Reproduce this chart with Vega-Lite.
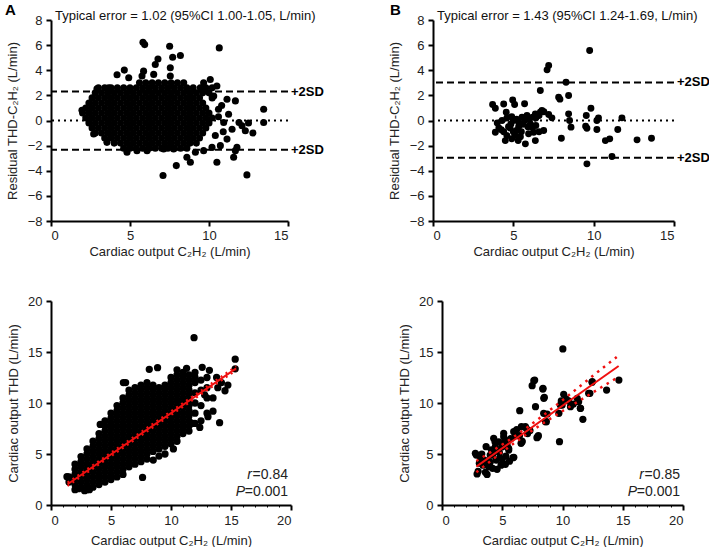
{
"$schema": "https://vega.github.io/schema/vega-lite/v6.json",
"background": "white",
"padding": {"left": 5, "top": 3, "right": 0, "bottom": 0},
"config": {
 "font": "Liberation Sans",
 "view": {"stroke": null},
 "axis": {"grid": false, "labelOverlap": false, "tickCount": 100, "format": "d", "domainColor": "#000", "domainWidth": 2, "tickColor": "#000", "tickWidth": 2, "tickSize": 5, "labelFont": "Liberation Sans", "labelFontSize": 13, "labelColor": "#222", "labelPadding": 3, "titleFont": "Liberation Sans", "titleFontSize": 13, "titleFontWeight": "normal", "titleColor": "#222"}
},
"datasets": {
 "ta": [
  {"c":5.6,"r":3},{"c":6.0,"r":3},{"c":6.4,"r":3},{"c":6.8,"r":3},{"c":7.2,"r":3},{"c":7.6,"r":3},{"c":8.0,"r":3},{"c":8.4,"r":3},
  {"c":3.0,"r":2.6},{"c":3.4,"r":2.6},{"c":3.8,"r":2.6},{"c":4.2,"r":2.6},{"c":4.6,"r":2.6},{"c":5.0,"r":2.6},{"c":5.4,"r":2.6},{"c":5.8,"r":2.6},{"c":6.2,"r":2.6},{"c":6.6,"r":2.6},{"c":7.0,"r":2.6},{"c":7.4,"r":2.6},{"c":7.8,"r":2.6},{"c":8.2,"r":2.6},{"c":8.6,"r":2.6},{"c":9.0,"r":2.6},{"c":9.8,"r":2.6},{"c":10.2,"r":2.6},
  {"c":2.8,"r":2.2},{"c":3.2,"r":2.2},{"c":3.6,"r":2.2},{"c":4.0,"r":2.2},{"c":4.4,"r":2.2},{"c":4.8,"r":2.2},{"c":5.2,"r":2.2},{"c":5.6,"r":2.2},{"c":6.0,"r":2.2},{"c":6.4,"r":2.2},{"c":6.8,"r":2.2},{"c":7.2,"r":2.2},{"c":7.6,"r":2.2},{"c":8.0,"r":2.2},{"c":8.4,"r":2.2},{"c":8.8,"r":2.2},{"c":9.2,"r":2.2},{"c":9.6,"r":2.2},{"c":10.0,"r":2.2},
  {"c":2.6,"r":1.8},{"c":3.0,"r":1.8},{"c":3.4,"r":1.8},{"c":3.8,"r":1.8},{"c":4.2,"r":1.8},{"c":4.6,"r":1.8},{"c":5.0,"r":1.8},{"c":5.4,"r":1.8},{"c":5.8,"r":1.8},{"c":6.2,"r":1.8},{"c":6.6,"r":1.8},{"c":7.0,"r":1.8},{"c":7.4,"r":1.8},{"c":7.8,"r":1.8},{"c":8.2,"r":1.8},{"c":8.6,"r":1.8},{"c":9.0,"r":1.8},{"c":9.4,"r":1.8},{"c":10.2,"r":1.8},
  {"c":2.4,"r":1.4},{"c":2.8,"r":1.4},{"c":3.2,"r":1.4},{"c":3.6,"r":1.4},{"c":4.0,"r":1.4},{"c":4.4,"r":1.4},{"c":4.8,"r":1.4},{"c":5.2,"r":1.4},{"c":5.6,"r":1.4},{"c":6.0,"r":1.4},{"c":6.4,"r":1.4},{"c":6.8,"r":1.4},{"c":7.2,"r":1.4},{"c":7.6,"r":1.4},{"c":8.0,"r":1.4},{"c":8.4,"r":1.4},{"c":8.8,"r":1.4},{"c":9.2,"r":1.4},{"c":9.6,"r":1.4},
  {"c":2.2,"r":1.0},{"c":2.6,"r":1.0},{"c":3.0,"r":1.0},{"c":3.4,"r":1.0},{"c":3.8,"r":1.0},{"c":4.2,"r":1.0},{"c":4.6,"r":1.0},{"c":5.0,"r":1.0},{"c":5.4,"r":1.0},{"c":5.8,"r":1.0},{"c":6.2,"r":1.0},{"c":6.6,"r":1.0},{"c":7.0,"r":1.0},{"c":7.4,"r":1.0},{"c":7.8,"r":1.0},{"c":8.2,"r":1.0},{"c":8.6,"r":1.0},{"c":9.0,"r":1.0},{"c":9.4,"r":1.0},{"c":9.8,"r":1.0},
  {"c":2.0,"r":0.6},{"c":2.4,"r":0.6},{"c":2.8,"r":0.6},{"c":3.2,"r":0.6},{"c":3.6,"r":0.6},{"c":4.0,"r":0.6},{"c":4.4,"r":0.6},{"c":4.8,"r":0.6},{"c":5.2,"r":0.6},{"c":5.6,"r":0.6},{"c":6.0,"r":0.6},{"c":6.4,"r":0.6},{"c":6.8,"r":0.6},{"c":7.2,"r":0.6},{"c":7.6,"r":0.6},{"c":8.0,"r":0.6},{"c":8.4,"r":0.6},{"c":8.8,"r":0.6},{"c":9.2,"r":0.6},{"c":9.6,"r":0.6},{"c":10.0,"r":0.6},
  {"c":2.2,"r":0.2},{"c":2.6,"r":0.2},{"c":3.0,"r":0.2},{"c":3.4,"r":0.2},{"c":3.8,"r":0.2},{"c":4.2,"r":0.2},{"c":4.6,"r":0.2},{"c":5.0,"r":0.2},{"c":5.4,"r":0.2},{"c":5.8,"r":0.2},{"c":6.2,"r":0.2},{"c":6.6,"r":0.2},{"c":7.0,"r":0.2},{"c":7.4,"r":0.2},{"c":7.8,"r":0.2},{"c":8.2,"r":0.2},{"c":8.6,"r":0.2},{"c":9.0,"r":0.2},{"c":9.4,"r":0.2},{"c":9.8,"r":0.2},{"c":10.2,"r":0.2},
  {"c":2.4,"r":-0.2},{"c":2.8,"r":-0.2},{"c":3.2,"r":-0.2},{"c":3.6,"r":-0.2},{"c":4.0,"r":-0.2},{"c":4.4,"r":-0.2},{"c":4.8,"r":-0.2},{"c":5.2,"r":-0.2},{"c":5.6,"r":-0.2},{"c":6.0,"r":-0.2},{"c":6.4,"r":-0.2},{"c":6.8,"r":-0.2},{"c":7.2,"r":-0.2},{"c":7.6,"r":-0.2},{"c":8.0,"r":-0.2},{"c":8.4,"r":-0.2},{"c":8.8,"r":-0.2},{"c":9.2,"r":-0.2},{"c":9.6,"r":-0.2},{"c":10.0,"r":-0.2},
  {"c":2.6,"r":-0.6},{"c":3.0,"r":-0.6},{"c":3.4,"r":-0.6},{"c":3.8,"r":-0.6},{"c":4.2,"r":-0.6},{"c":4.6,"r":-0.6},{"c":5.0,"r":-0.6},{"c":5.4,"r":-0.6},{"c":5.8,"r":-0.6},{"c":6.2,"r":-0.6},{"c":6.6,"r":-0.6},{"c":7.0,"r":-0.6},{"c":7.4,"r":-0.6},{"c":7.8,"r":-0.6},{"c":8.2,"r":-0.6},{"c":8.6,"r":-0.6},{"c":9.0,"r":-0.6},{"c":9.4,"r":-0.6},{"c":9.8,"r":-0.6},
  {"c":2.8,"r":-1.0},{"c":3.2,"r":-1.0},{"c":3.6,"r":-1.0},{"c":4.0,"r":-1.0},{"c":4.4,"r":-1.0},{"c":4.8,"r":-1.0},{"c":5.2,"r":-1.0},{"c":5.6,"r":-1.0},{"c":6.0,"r":-1.0},{"c":6.4,"r":-1.0},{"c":6.8,"r":-1.0},{"c":7.2,"r":-1.0},{"c":7.6,"r":-1.0},{"c":8.0,"r":-1.0},{"c":8.4,"r":-1.0},{"c":8.8,"r":-1.0},{"c":9.2,"r":-1.0},{"c":9.6,"r":-1.0},
  {"c":3.4,"r":-1.4},{"c":3.8,"r":-1.4},{"c":4.2,"r":-1.4},{"c":4.6,"r":-1.4},{"c":5.0,"r":-1.4},{"c":5.4,"r":-1.4},{"c":5.8,"r":-1.4},{"c":6.2,"r":-1.4},{"c":6.6,"r":-1.4},{"c":7.0,"r":-1.4},{"c":7.4,"r":-1.4},{"c":7.8,"r":-1.4},{"c":8.2,"r":-1.4},{"c":8.6,"r":-1.4},{"c":9.0,"r":-1.4},{"c":9.4,"r":-1.4},
  {"c":4.0,"r":-1.8},{"c":4.4,"r":-1.8},{"c":4.8,"r":-1.8},{"c":5.2,"r":-1.8},{"c":5.6,"r":-1.8},{"c":6.0,"r":-1.8},{"c":6.4,"r":-1.8},{"c":6.8,"r":-1.8},{"c":7.2,"r":-1.8},{"c":7.6,"r":-1.8},{"c":8.0,"r":-1.8},{"c":8.4,"r":-1.8},{"c":8.8,"r":-1.8},{"c":9.2,"r":-1.8},
  {"c":4.6,"r":-2.2},{"c":5.0,"r":-2.2},{"c":5.4,"r":-2.2},{"c":5.8,"r":-2.2},{"c":6.2,"r":-2.2},{"c":6.6,"r":-2.2},{"c":7.0,"r":-2.2},{"c":7.4,"r":-2.2},{"c":7.8,"r":-2.2},{"c":8.2,"r":-2.2},{"c":8.6,"r":-2.2},
  {"c":5.82,"r":6.23},{"c":5.93,"r":6.04},{"c":7.51,"r":5.91},{"c":10.65,"r":5.78},{"c":8.19,"r":5.17},{"c":7.7,"r":5.04},{"c":6.77,"r":4.9},{"c":6.6,"r":4.46},{"c":7.55,"r":4.2},{"c":4.64,"r":4.01},{"c":4.18,"r":3.64},{"c":5.86,"r":3.93},{"c":4.92,"r":3.4},{"c":5.76,"r":3.54},{"c":6.5,"r":3.67},{"c":7.55,"r":3.54},{"c":10.08,"r":3.27},{"c":10.5,"r":2.74},{"c":9.66,"r":3.0},{"c":9.45,"r":2.6},{"c":11.14,"r":1.69},{"c":11.67,"r":1.56},{"c":10.3,"r":1.95},{"c":13.46,"r":0.9},{"c":13.46,"r":-0.16},{"c":12.5,"r":-0.2},{"c":11.9,"r":-0.16},{"c":11.24,"r":0.5},{"c":10.93,"r":-0.16},{"c":11.46,"r":-0.69},{"c":12.09,"r":-0.42},{"c":12.3,"r":-0.82},{"c":12.78,"r":-1.0},{"c":11.14,"r":-1.48},{"c":10.72,"r":-2.0},{"c":11.77,"r":-2.14},{"c":11.67,"r":-2.4},{"c":11.56,"r":-2.93},{"c":10.5,"r":-3.32},{"c":12.4,"r":-4.33},{"c":7.09,"r":-4.38},{"c":7.93,"r":-3.59},{"c":8.82,"r":-3.32},{"c":8.6,"r":-2.93},{"c":9.66,"r":-2.4},{"c":9.14,"r":-2.53},{"c":10.19,"r":-2.14},{"c":4.81,"r":-2.53},{"c":5.44,"r":-2.4},{"c":6.08,"r":-2.4},{"c":7.13,"r":-2.27},{"c":7.76,"r":-2.27},{"c":2.91,"r":2.53},{"c":3.65,"r":2.61},{"c":1.96,"r":0.82},{"c":2.7,"r":-1.08},{"c":3.54,"r":-1.74},{"c":10.6,"r":0.9},{"c":10.8,"r":1.2},{"c":10.4,"r":-1.2},{"c":10.9,"r":-0.9},{"c":10.6,"r":0.3}
 ],
 "tb": [
  {"c":3.71,"r":1.27},{"c":3.88,"r":0.98},{"c":4.4,"r":1.32},{"c":4.96,"r":1.64},{"c":5.08,"r":1.27},{"c":5.7,"r":1.33},{"c":4.56,"r":0.66},{"c":3.88,"r":-0.93},{"c":4.25,"r":-0.74},{"c":4.5,"r":-1.6},{"c":4.7,"r":-0.5},{"c":5.0,"r":0.0},{"c":5.0,"r":-0.9},{"c":5.33,"r":-0.5},{"c":5.44,"r":-1.3},{"c":5.75,"r":-1.86},{"c":5.95,"r":-1.06},{"c":6.06,"r":-0.27},{"c":6.37,"r":-1.6},{"c":6.27,"r":-0.93},{"c":5.54,"r":0.27},{"c":5.85,"r":0.4},{"c":6.2,"r":0.27},{"c":6.37,"r":0.53},{"c":6.68,"r":0.66},{"c":6.78,"r":0.8},{"c":6.16,"r":-0.53},{"c":4.85,"r":-0.27},{"c":5.33,"r":-0.13},{"c":4.3,"r":0.0},{"c":6.68,"r":2.39},{"c":6.89,"r":-0.8},{"c":7.2,"r":0.48},{"c":7.4,"r":0.21},{"c":7.99,"r":-1.41},{"c":7.82,"r":1.86},{"c":7.9,"r":1.7},{"c":8.44,"r":1.99},{"c":8.28,"r":3.05},{"c":8.44,"r":0.53},{"c":8.5,"r":0.0},{"c":8.59,"r":-0.53},{"c":9.54,"r":0.4},{"c":9.58,"r":-0.61},{"c":9.83,"r":0.98},{"c":9.75,"r":5.57},{"c":10.2,"r":0.0},{"c":10.3,"r":0.21},{"c":10.2,"r":-0.72},{"c":9.58,"r":-3.45},{"c":11.14,"r":-2.86},{"c":10.73,"r":-1.6},{"c":11.0,"r":-1.46},{"c":11.5,"r":-0.72},{"c":11.76,"r":0.21},{"c":12.7,"r":-1.54},{"c":13.6,"r":-1.41},{"c":7.1,"r":4.03},{"c":7.2,"r":4.38},{"c":9.5,"r":-0.45},
  {"c":4.1,"r":-0.6},{"c":4.4,"r":-0.9},{"c":4.6,"r":-1.2},{"c":4.8,"r":-0.6},{"c":5.2,"r":-0.8},{"c":5.5,"r":-0.9},{"c":5.6,"r":-0.3},{"c":5.9,"r":-0.5},{"c":4.6,"r":0.2},{"c":4.9,"r":0.3},{"c":5.2,"r":0.1},{"c":5.7,"r":0.0},{"c":6.4,"r":0.2},{"c":6.6,"r":0.4},{"c":6.4,"r":-0.4},{"c":5.1,"r":-1.2},{"c":5.3,"r":-1.6},{"c":4.9,"r":-1.45},{"c":6.0,"r":0.1},{"c":4.0,"r":-0.2},{"c":6.9,"r":0.7},{"c":6.6,"r":-0.9}
 ],
 "ba": [
  {"c":1.5,"t":2.25},{"c":1.5,"t":2.75},
  {"c":2,"t":1.5},{"c":2,"t":2},{"c":2,"t":2.5},{"c":2,"t":3},{"c":2,"t":3.5},{"c":2,"t":4},
  {"c":2.5,"t":1.75},{"c":2.5,"t":2.25},{"c":2.5,"t":2.75},{"c":2.5,"t":3.25},{"c":2.5,"t":3.75},{"c":2.5,"t":4.25},{"c":2.5,"t":4.75},
  {"c":3,"t":1.5},{"c":3,"t":2},{"c":3,"t":2.5},{"c":3,"t":3},{"c":3,"t":3.5},{"c":3,"t":4},{"c":3,"t":4.5},{"c":3,"t":5},{"c":3,"t":5.5},
  {"c":3.5,"t":1.75},{"c":3.5,"t":2.25},{"c":3.5,"t":2.75},{"c":3.5,"t":3.25},{"c":3.5,"t":3.75},{"c":3.5,"t":4.25},{"c":3.5,"t":4.75},{"c":3.5,"t":5.25},{"c":3.5,"t":5.75},{"c":3.5,"t":6.25},
  {"c":4,"t":2},{"c":4,"t":2.5},{"c":4,"t":3},{"c":4,"t":3.5},{"c":4,"t":4},{"c":4,"t":4.5},{"c":4,"t":5},{"c":4,"t":5.5},{"c":4,"t":6},{"c":4,"t":6.5},{"c":4,"t":7},
  {"c":4.5,"t":2.25},{"c":4.5,"t":2.75},{"c":4.5,"t":3.25},{"c":4.5,"t":3.75},{"c":4.5,"t":4.25},{"c":4.5,"t":4.75},{"c":4.5,"t":5.25},{"c":4.5,"t":5.75},{"c":4.5,"t":6.25},{"c":4.5,"t":6.75},{"c":4.5,"t":7.25},{"c":4.5,"t":7.75},{"c":4.5,"t":8.25},
  {"c":5,"t":2.5},{"c":5,"t":3},{"c":5,"t":3.5},{"c":5,"t":4},{"c":5,"t":4.5},{"c":5,"t":5},{"c":5,"t":5.5},{"c":5,"t":6},{"c":5,"t":6.5},{"c":5,"t":7},{"c":5,"t":7.5},{"c":5,"t":8},{"c":5,"t":8.5},{"c":5,"t":9},
  {"c":5.5,"t":2.75},{"c":5.5,"t":3.25},{"c":5.5,"t":3.75},{"c":5.5,"t":4.25},{"c":5.5,"t":4.75},{"c":5.5,"t":5.25},{"c":5.5,"t":5.75},{"c":5.5,"t":6.25},{"c":5.5,"t":6.75},{"c":5.5,"t":7.25},{"c":5.5,"t":7.75},{"c":5.5,"t":8.25},{"c":5.5,"t":8.75},{"c":5.5,"t":9.25},{"c":5.5,"t":9.75},
  {"c":6,"t":3},{"c":6,"t":3.5},{"c":6,"t":4},{"c":6,"t":4.5},{"c":6,"t":5},{"c":6,"t":5.5},{"c":6,"t":6},{"c":6,"t":6.5},{"c":6,"t":7},{"c":6,"t":7.5},{"c":6,"t":8},{"c":6,"t":8.5},{"c":6,"t":9},{"c":6,"t":9.5},{"c":6,"t":10},{"c":6,"t":10.5},
  {"c":6.5,"t":3.75},{"c":6.5,"t":4.25},{"c":6.5,"t":4.75},{"c":6.5,"t":5.25},{"c":6.5,"t":5.75},{"c":6.5,"t":6.25},{"c":6.5,"t":6.75},{"c":6.5,"t":7.25},{"c":6.5,"t":7.75},{"c":6.5,"t":8.25},{"c":6.5,"t":8.75},{"c":6.5,"t":9.25},{"c":6.5,"t":9.75},{"c":6.5,"t":10.25},{"c":6.5,"t":10.75},{"c":6.5,"t":11.25},
  {"c":7,"t":4},{"c":7,"t":4.5},{"c":7,"t":5},{"c":7,"t":5.5},{"c":7,"t":6},{"c":7,"t":6.5},{"c":7,"t":7},{"c":7,"t":7.5},{"c":7,"t":8},{"c":7,"t":8.5},{"c":7,"t":9},{"c":7,"t":9.5},{"c":7,"t":10},{"c":7,"t":10.5},{"c":7,"t":11},{"c":7,"t":11.5},
  {"c":7.5,"t":4.25},{"c":7.5,"t":4.75},{"c":7.5,"t":5.25},{"c":7.5,"t":5.75},{"c":7.5,"t":6.25},{"c":7.5,"t":6.75},{"c":7.5,"t":7.25},{"c":7.5,"t":7.75},{"c":7.5,"t":8.25},{"c":7.5,"t":8.75},{"c":7.5,"t":9.25},{"c":7.5,"t":9.75},{"c":7.5,"t":10.25},{"c":7.5,"t":10.75},{"c":7.5,"t":11.25},{"c":7.5,"t":11.75},
  {"c":8,"t":4.5},{"c":8,"t":5},{"c":8,"t":5.5},{"c":8,"t":6},{"c":8,"t":6.5},{"c":8,"t":7},{"c":8,"t":7.5},{"c":8,"t":8},{"c":8,"t":8.5},{"c":8,"t":9},{"c":8,"t":9.5},{"c":8,"t":10},{"c":8,"t":10.5},{"c":8,"t":11},{"c":8,"t":11.5},{"c":8,"t":12},
  {"c":8.5,"t":5.25},{"c":8.5,"t":5.75},{"c":8.5,"t":6.25},{"c":8.5,"t":6.75},{"c":8.5,"t":7.25},{"c":8.5,"t":7.75},{"c":8.5,"t":8.25},{"c":8.5,"t":8.75},{"c":8.5,"t":9.25},{"c":8.5,"t":9.75},{"c":8.5,"t":10.25},{"c":8.5,"t":10.75},{"c":8.5,"t":11.25},{"c":8.5,"t":11.75},
  {"c":9,"t":5.5},{"c":9,"t":6},{"c":9,"t":6.5},{"c":9,"t":7},{"c":9,"t":7.5},{"c":9,"t":8},{"c":9,"t":8.5},{"c":9,"t":9},{"c":9,"t":9.5},{"c":9,"t":10},{"c":9,"t":10.5},{"c":9,"t":11},{"c":9,"t":11.5},
  {"c":9.5,"t":5.75},{"c":9.5,"t":6.25},{"c":9.5,"t":6.75},{"c":9.5,"t":7.25},{"c":9.5,"t":7.75},{"c":9.5,"t":8.25},{"c":9.5,"t":8.75},{"c":9.5,"t":9.25},{"c":9.5,"t":9.75},{"c":9.5,"t":10.25},{"c":9.5,"t":10.75},{"c":9.5,"t":11.25},{"c":9.5,"t":11.75},
  {"c":10,"t":6},{"c":10,"t":6.5},{"c":10,"t":7},{"c":10,"t":7.5},{"c":10,"t":8},{"c":10,"t":8.5},{"c":10,"t":9},{"c":10,"t":9.5},{"c":10,"t":10},{"c":10,"t":10.5},{"c":10,"t":11},{"c":10,"t":11.5},{"c":10,"t":12},{"c":10,"t":12.5},
  {"c":10.5,"t":6.25},{"c":10.5,"t":6.75},{"c":10.5,"t":7.25},{"c":10.5,"t":7.75},{"c":10.5,"t":8.25},{"c":10.5,"t":8.75},{"c":10.5,"t":9.25},{"c":10.5,"t":9.75},{"c":10.5,"t":10.25},{"c":10.5,"t":10.75},{"c":10.5,"t":11.25},{"c":10.5,"t":11.75},{"c":10.5,"t":12.25},{"c":10.5,"t":12.75},{"c":10.5,"t":13.25},
  {"c":11,"t":7},{"c":11,"t":7.5},{"c":11,"t":8},{"c":11,"t":8.5},{"c":11,"t":9},{"c":11,"t":9.5},{"c":11,"t":10},{"c":11,"t":10.5},{"c":11,"t":11},{"c":11,"t":11.5},{"c":11,"t":12},{"c":11,"t":12.5},{"c":11,"t":13},
  {"c":11.5,"t":7.25},{"c":11.5,"t":7.75},{"c":11.5,"t":8.25},{"c":11.5,"t":8.75},{"c":11.5,"t":9.25},{"c":11.5,"t":9.75},{"c":11.5,"t":10.25},{"c":11.5,"t":10.75},{"c":11.5,"t":11.25},{"c":11.5,"t":11.75},{"c":11.5,"t":12.25},{"c":11.5,"t":12.75},
  {"c":12,"t":8},{"c":12,"t":9},{"c":12,"t":10},{"c":12,"t":11},{"c":12,"t":12},{"c":12,"t":12.5},{"c":12,"t":13},
  {"c":12.5,"t":8.25},{"c":12.5,"t":9.75},{"c":12.5,"t":11.25},{"c":12.5,"t":12.25},
  {"c":13,"t":9},{"c":13,"t":10.5},{"c":13,"t":11.5},{"c":13,"t":12.5},
  {"c":11.92,"t":16.4},{"c":15.35,"t":14.3},{"c":15.35,"t":13.35},{"c":8.19,"t":13.3},{"c":8.88,"t":13.46},{"c":6.03,"t":12.0},{"c":6.22,"t":12.0},{"c":14.05,"t":8.07},{"c":8.52,"t":4.41},{"c":7.63,"t":2.7},{"c":1.33,"t":2.78},{"c":4.1,"t":7.9},{"c":2.3,"t":1.6},{"c":13.08,"t":8.66},{"c":13.5,"t":9.2},{"c":14.74,"t":11.76},{"c":13.2,"t":13.2},{"c":11.3,"t":13.4},{"c":12.6,"t":13.5},{"c":13.8,"t":12.5},{"c":14.2,"t":12.0},{"c":13.5,"t":10.5},{"c":12.8,"t":10.8},{"c":14.5,"t":11.2},{"c":13.9,"t":11.5},{"c":11.8,"t":8.0},{"c":12.4,"t":7.6},{"c":10.2,"t":5.5},{"c":9.5,"t":5.0},{"c":9.0,"t":4.8},{"c":3.2,"t":1.5},{"c":2.8,"t":1.4}
 ],
 "bb": [
  {"c":2.77,"t":5.07},{"c":2.85,"t":4.9},{"c":2.91,"t":3.04},{"c":3.0,"t":3.3},{"c":3.2,"t":4.6},{"c":3.4,"t":3.9},{"c":3.6,"t":3.2},{"c":3.74,"t":3.0},{"c":3.66,"t":5.72},{"c":3.8,"t":4.3},{"c":3.88,"t":3.76},{"c":4.0,"t":4.9},{"c":4.1,"t":5.4},{"c":4.2,"t":3.6},{"c":4.29,"t":6.54},{"c":4.4,"t":6.2},{"c":4.43,"t":5.72},{"c":4.5,"t":4.4},{"c":4.57,"t":3.5},{"c":4.7,"t":6.2},{"c":4.76,"t":5.13},{"c":4.8,"t":4.6},{"c":4.9,"t":3.9},{"c":5.0,"t":5.7},{"c":5.12,"t":7.03},{"c":5.12,"t":6.7},{"c":5.2,"t":6.0},{"c":5.26,"t":6.37},{"c":5.26,"t":3.99},{"c":5.3,"t":4.8},{"c":5.4,"t":5.9},{"c":5.54,"t":5.39},{"c":5.53,"t":5.56},{"c":5.6,"t":4.3},{"c":5.7,"t":6.5},{"c":5.89,"t":4.64},{"c":5.96,"t":4.67},{"c":5.95,"t":7.19},{"c":6.1,"t":6.8},{"c":6.2,"t":7.4},{"c":6.43,"t":6.8},{"c":6.45,"t":9.25},{"c":6.59,"t":7.68},{"c":6.64,"t":6.27},{"c":6.56,"t":6.05},{"c":6.65,"t":6.2},{"c":6.92,"t":7.68},{"c":7.0,"t":7.5},{"c":3.3,"t":5.0},{"c":3.5,"t":4.4},{"c":4.0,"t":4.2},{"c":4.6,"t":5.3},{"c":5.0,"t":4.5},{"c":4.2,"t":4.9},{"c":3.1,"t":4.1},
  {"c":7.48,"t":11.7},{"c":7.62,"t":12.19},{"c":7.69,"t":12.25},{"c":8.37,"t":11.37},{"c":8.38,"t":11.44},{"c":7.76,"t":9.64},{"c":8.45,"t":10.46},{"c":8.49,"t":10.56},{"c":7.88,"t":6.6},{"c":7.95,"t":6.7},{"c":8.59,"t":8.17},{"c":8.66,"t":8.17},{"c":8.73,"t":8.92},{"c":8.44,"t":8.99},{"c":10.03,"t":15.3},{"c":9.75,"t":6.21},{"c":9.97,"t":9.8},{"c":9.82,"t":9.8},{"c":9.7,"t":8.99},{"c":10.1,"t":10.85},{"c":10.3,"t":10.4},{"c":10.66,"t":9.64},{"c":11.5,"t":9.48},{"c":11.48,"t":9.48},{"c":11.69,"t":8.4},{"c":11.22,"t":10.46},{"c":11.34,"t":10.13},{"c":12.47,"t":12.1},{"c":12.27,"t":10.95},{"c":12.17,"t":10.95},{"c":13.66,"t":11.27},{"c":14.68,"t":12.25},{"c":12.45,"t":12.03},{"c":10.5,"t":10.2},{"c":9.9,"t":10.2},{"c":10.9,"t":9.9},{"c":7.3,"t":7.3},{"c":7.1,"t":7.0},{"c":8.0,"t":6.8}
 ]
},
"spacing": 37,
"vconcat": [
 {"hconcat": [
  {"width": 237, "height": 201,
   "layer": [
    {"data": {"name": "ta"}, "mark": {"type": "circle", "size": 50, "color": "#000", "opacity": 1},
     "encoding": {
      "x": {"field": "c", "type": "quantitative", "scale": {"domain": [0, 15], "nice": false}, "axis": {"values": [0, 5, 10, 15], "tickCount": 100, "format": "d", "labelOverlap": false, "title": "Cardiac output C₂H₂ (L/min)", "labelPadding": 3, "titlePadding": 3}},
      "y": {"field": "r", "type": "quantitative", "scale": {"domain": [-8, 8], "nice": false}, "axis": {"values": [-8, -6, -4, -2, 0, 2, 4, 6, 8], "tickCount": 100, "format": "d", "labelOverlap": false, "title": "Residual THD-C₂H₂  (L/min)", "labelPadding": 4, "titlePadding": 8}}}},
    {"data": {"values": [{"v": 2.3}, {"v": -2.33}]}, "mark": {"type": "rule", "strokeDash": [7, 4], "strokeWidth": 2, "color": "#000"}, "encoding": {"y": {"field": "v", "type": "quantitative"}}},
    {"data": {"values": [{"v": 0}]}, "mark": {"type": "rule", "strokeDash": [2, 4], "strokeWidth": 2, "color": "#000"}, "encoding": {"y": {"field": "v", "type": "quantitative"}}},
    {"data": {"values": [{"v": 2.3, "lab": "+2SD"}, {"v": -2.33, "lab": "+2SD"}]}, "mark": {"type": "text", "align": "left", "baseline": "middle", "dx": 3, "fontSize": 13, "fontWeight": "bold", "color": "#000"},
     "encoding": {"x": {"datum": 15, "type": "quantitative"}, "y": {"field": "v", "type": "quantitative"}, "text": {"field": "lab"}}},
    {"data": {"values": [{"lab": "Typical error = 1.02 (95%CI 1.00-1.05, L/min)"}]}, "mark": {"type": "text", "align": "left", "baseline": "alphabetic", "dx": 4, "dy": 0, "fontSize": 13, "color": "#111"},
     "encoding": {"x": {"datum": 0, "type": "quantitative"}, "y": {"datum": 8, "type": "quantitative"}, "text": {"field": "lab"}}},
    {"data": {"values": [{"lab": "A"}]}, "mark": {"type": "text", "align": "left", "baseline": "alphabetic", "dx": -46, "dy": -5, "fontSize": 15, "fontWeight": "bold", "color": "#000"},
     "encoding": {"x": {"datum": 0, "type": "quantitative"}, "y": {"datum": 8, "type": "quantitative"}, "text": {"field": "lab"}}}
   ]},
  {"width": 241, "height": 201,
   "layer": [
    {"data": {"name": "tb"}, "mark": {"type": "circle", "size": 48, "color": "#000", "opacity": 1},
     "encoding": {
      "x": {"field": "c", "type": "quantitative", "scale": {"domain": [0, 15], "nice": false}, "axis": {"values": [0, 5, 10, 15], "tickCount": 100, "format": "d", "labelOverlap": false, "title": "Cardiac output C₂H₂ (L/min)", "labelPadding": 3, "titlePadding": 3}},
      "y": {"field": "r", "type": "quantitative", "scale": {"domain": [-8, 8], "nice": false}, "axis": {"values": [-8, -6, -4, -2, 0, 2, 4, 6, 8], "tickCount": 100, "format": "d", "labelOverlap": false, "title": "Residual THD-C₂H₂  (L/min)", "labelPadding": 4, "titlePadding": 8}}}},
    {"data": {"values": [{"v": 3.03}, {"v": -2.97}]}, "mark": {"type": "rule", "strokeDash": [7, 4], "strokeWidth": 2, "color": "#000"}, "encoding": {"y": {"field": "v", "type": "quantitative"}}},
    {"data": {"values": [{"v": 0}]}, "mark": {"type": "rule", "strokeDash": [2, 4], "strokeWidth": 2, "color": "#000"}, "encoding": {"y": {"field": "v", "type": "quantitative"}}},
    {"data": {"values": [{"v": 3.03, "lab": "+2SD"}, {"v": -2.97, "lab": "+2SD"}]}, "mark": {"type": "text", "align": "left", "baseline": "middle", "dx": 3, "fontSize": 13, "fontWeight": "bold", "color": "#000"},
     "encoding": {"x": {"datum": 15, "type": "quantitative"}, "y": {"field": "v", "type": "quantitative"}, "text": {"field": "lab"}}},
    {"data": {"values": [{"lab": "Typical error = 1.43 (95%CI 1.24-1.69, L/min)"}]}, "mark": {"type": "text", "align": "left", "baseline": "alphabetic", "dx": 4, "dy": 0, "fontSize": 13, "color": "#111"},
     "encoding": {"x": {"datum": 0, "type": "quantitative"}, "y": {"datum": 8, "type": "quantitative"}, "text": {"field": "lab"}}},
    {"data": {"values": [{"lab": "B"}]}, "mark": {"type": "text", "align": "left", "baseline": "alphabetic", "dx": -43, "dy": -5, "fontSize": 15, "fontWeight": "bold", "color": "#000"},
     "encoding": {"x": {"datum": 0, "type": "quantitative"}, "y": {"datum": 8, "type": "quantitative"}, "text": {"field": "lab"}}}
   ]}
 ], "spacing": 145, "bounds": "flush"},
 {"hconcat": [
  {"width": 240, "height": 204,
   "layer": [
    {"data": {"name": "ba"}, "mark": {"type": "circle", "size": 53, "color": "#000", "opacity": 1},
     "encoding": {
      "x": {"field": "c", "type": "quantitative", "scale": {"domain": [0, 20], "nice": false}, "axis": {"values": [0,0.25,0.5,0.75,1,1.25,1.5,1.75,2,2.25,2.5,2.75,3,3.25,3.5,3.75,4,4.25,4.5,4.75,5,5.25,5.5,5.75,6,6.25,6.5,6.75,7,7.25,7.5,7.75,8,8.25,8.5,8.75,9,9.25,9.5,9.75,10,10.25,10.5,10.75,11,11.25,11.5,11.75,12,12.25,12.5,12.75,13,13.25,13.5,13.75,14,14.25,14.5,14.75,15,15.25,15.5,15.75,16,16.25,16.5,16.75,17,17.25,17.5,17.75,18,18.25,18.5,18.75,19,19.25,19.5,19.75,20], "tickCount": 100, "format": "d", "labelOverlap": false, "labelExpr": "datum.value % 5 === 0 ? datum.label : ''", "tickSize": {"condition": {"test": "datum.value % 5 === 0", "value": 5}, "value": 2}, "tickWidth": {"condition": {"test": "datum.value % 5 === 0", "value": 2}, "value": 1}, "labelPadding": 4, "title": "Cardiac output C₂H₂ (L/min)", "titlePadding": 7}},
      "y": {"field": "t", "type": "quantitative", "scale": {"domain": [0, 20], "nice": false}, "axis": {"values": [0, 5, 10, 15, 20], "tickCount": 100, "format": "d", "labelOverlap": false, "title": "Cardiac output THD (L/min)", "labelPadding": 4, "titlePadding": 7}}}},
    {"data": {"values": [{"c": 1.38, "t": 2.03}, {"c": 15.43, "t": 13.4}]}, "mark": {"type": "line", "color": "#f01010", "strokeWidth": 2},
     "encoding": {"x": {"field": "c", "type": "quantitative"}, "y": {"field": "t", "type": "quantitative"}}},
    {"data": {"values": [{"c": 1.38, "t": 2.2, "g": "u"}, {"c": 15.43, "t": 13.6, "g": "u"}, {"c": 1.38, "t": 1.86, "g": "l"}, {"c": 15.43, "t": 13.2, "g": "l"}]}, "mark": {"type": "line", "color": "#f01010", "strokeWidth": 2, "strokeDash": [2, 4]},
     "encoding": {"x": {"field": "c", "type": "quantitative"}, "y": {"field": "t", "type": "quantitative"}, "detail": {"field": "g"}}},
    {"data": {"values": [{"a": "=0.84", "v": 2.95}, {"a": "=0.001", "v": 1.25}]}, "mark": {"type": "text", "align": "right", "baseline": "middle", "dx": -3, "fontSize": 14, "color": "#222"},
     "encoding": {"x": {"datum": 20, "type": "quantitative"}, "y": {"field": "v", "type": "quantitative"}, "text": {"field": "a"}}},
    {"data": {"values": [{"a": "r", "v": 2.95}]}, "mark": {"type": "text", "align": "right", "baseline": "middle", "dx": -39, "fontSize": 14, "fontStyle": "italic", "color": "#222"},
     "encoding": {"x": {"datum": 20, "type": "quantitative"}, "y": {"field": "v", "type": "quantitative"}, "text": {"field": "a"}}},
    {"data": {"values": [{"a": "P", "v": 1.25}]}, "mark": {"type": "text", "align": "right", "baseline": "middle", "dx": -46, "fontSize": 14, "fontStyle": "italic", "color": "#222"},
     "encoding": {"x": {"datum": 20, "type": "quantitative"}, "y": {"field": "v", "type": "quantitative"}, "text": {"field": "a"}}}
   ]},
  {"width": 241, "height": 204,
   "layer": [
    {"data": {"name": "bb"}, "mark": {"type": "circle", "size": 52, "color": "#000", "opacity": 1},
     "encoding": {
      "x": {"field": "c", "type": "quantitative", "scale": {"domain": [0, 20], "nice": false}, "axis": {"values": [0,0.25,0.5,0.75,1,1.25,1.5,1.75,2,2.25,2.5,2.75,3,3.25,3.5,3.75,4,4.25,4.5,4.75,5,5.25,5.5,5.75,6,6.25,6.5,6.75,7,7.25,7.5,7.75,8,8.25,8.5,8.75,9,9.25,9.5,9.75,10,10.25,10.5,10.75,11,11.25,11.5,11.75,12,12.25,12.5,12.75,13,13.25,13.5,13.75,14,14.25,14.5,14.75,15,15.25,15.5,15.75,16,16.25,16.5,16.75,17,17.25,17.5,17.75,18,18.25,18.5,18.75,19,19.25,19.5,19.75,20], "tickCount": 100, "format": "d", "labelOverlap": false, "labelExpr": "datum.value % 5 === 0 ? datum.label : ''", "tickSize": {"condition": {"test": "datum.value % 5 === 0", "value": 5}, "value": 2}, "tickWidth": {"condition": {"test": "datum.value % 5 === 0", "value": 2}, "value": 1}, "labelPadding": 4, "title": "Cardiac output C₂H₂ (L/min)", "titlePadding": 7}},
      "y": {"field": "t", "type": "quantitative", "scale": {"domain": [0, 20], "nice": false}, "axis": {"values": [0, 5, 10, 15, 20], "tickCount": 100, "format": "d", "labelOverlap": false, "title": "Cardiac output THD (L/min)", "labelPadding": 4, "titlePadding": 7}}}},
    {"data": {"values": [{"c": 2.85, "t": 3.76}, {"c": 14.66, "t": 13.63}]}, "mark": {"type": "line", "color": "#f01010", "strokeWidth": 2},
     "encoding": {"x": {"field": "c", "type": "quantitative"}, "y": {"field": "t", "type": "quantitative"}}},
    {"data": {"values": [
      {"c": 2.85, "t": 4.31, "g": "u"}, {"c": 4, "t": 5.16, "g": "u"}, {"c": 5.5, "t": 6.31, "g": "u"}, {"c": 7, "t": 7.54, "g": "u"}, {"c": 8.5, "t": 8.88, "g": "u"}, {"c": 10, "t": 10.27, "g": "u"}, {"c": 11.5, "t": 11.69, "g": "u"}, {"c": 13, "t": 13.12, "g": "u"}, {"c": 14.5, "t": 14.5, "g": "u"},
      {"c": 2.85, "t": 3.21, "g": "l"}, {"c": 4, "t": 4.28, "g": "l"}, {"c": 5.5, "t": 5.65, "g": "l"}, {"c": 7, "t": 6.92, "g": "l"}, {"c": 8.5, "t": 8.1, "g": "l"}, {"c": 10, "t": 9.21, "g": "l"}, {"c": 11.5, "t": 10.29, "g": "l"}, {"c": 13, "t": 11.38, "g": "l"}, {"c": 14.5, "t": 12.45, "g": "l"}]},
     "mark": {"type": "line", "color": "#f01010", "strokeWidth": 2.5, "strokeDash": [2.5, 5]},
     "encoding": {"x": {"field": "c", "type": "quantitative"}, "y": {"field": "t", "type": "quantitative"}, "detail": {"field": "g"}}},
    {"data": {"values": [{"a": "=0.85", "v": 2.95}, {"a": "=0.001", "v": 1.25}]}, "mark": {"type": "text", "align": "right", "baseline": "middle", "dx": -3, "fontSize": 14, "color": "#222"},
     "encoding": {"x": {"datum": 20, "type": "quantitative"}, "y": {"field": "v", "type": "quantitative"}, "text": {"field": "a"}}},
    {"data": {"values": [{"a": "r", "v": 2.95}]}, "mark": {"type": "text", "align": "right", "baseline": "middle", "dx": -39, "fontSize": 14, "fontStyle": "italic", "color": "#222"},
     "encoding": {"x": {"datum": 20, "type": "quantitative"}, "y": {"field": "v", "type": "quantitative"}, "text": {"field": "a"}}},
    {"data": {"values": [{"a": "P", "v": 1.25}]}, "mark": {"type": "text", "align": "right", "baseline": "middle", "dx": -46, "fontSize": 14, "fontStyle": "italic", "color": "#222"},
     "encoding": {"x": {"datum": 20, "type": "quantitative"}, "y": {"field": "v", "type": "quantitative"}, "text": {"field": "a"}}}
   ]}
 ], "spacing": 151, "bounds": "flush"}
]
}
